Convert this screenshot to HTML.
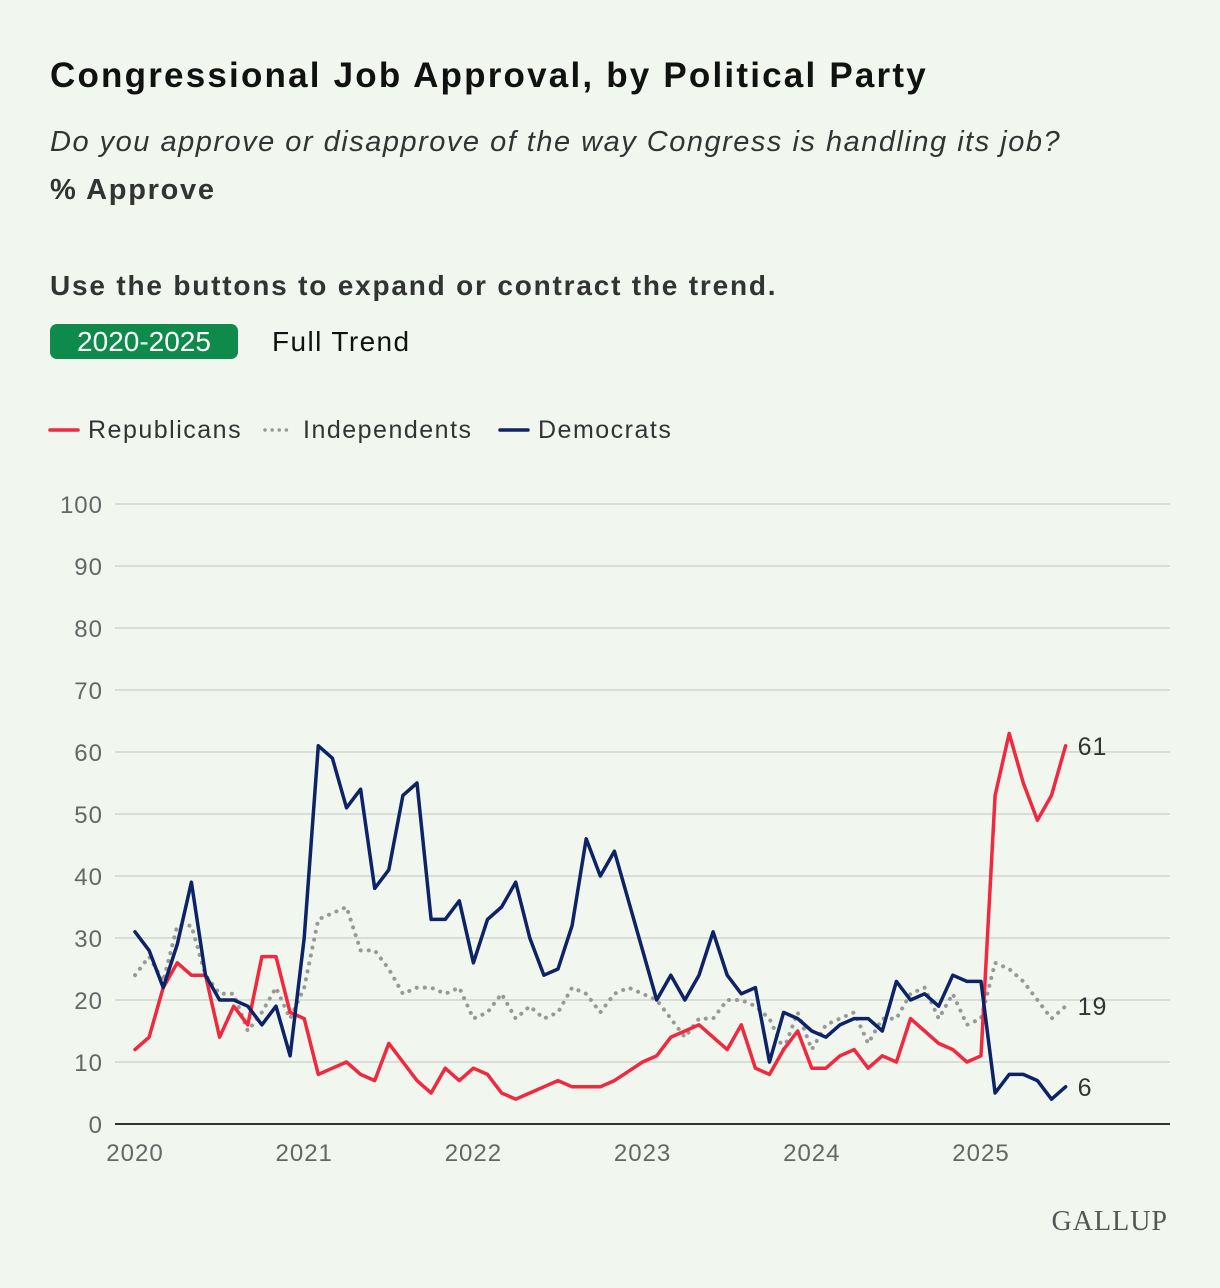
<!DOCTYPE html>
<html><head><meta charset="utf-8"><style>
body{margin:0;background:#f1f6ef;font-family:"Liberation Sans",sans-serif;}
.wrap{position:relative;width:1220px;height:1288px;}
h1{position:absolute;left:50px;top:56px;margin:0;font-size:35px;font-weight:bold;color:#111;letter-spacing:2.2px;}
.q{position:absolute;left:50px;top:126px;font-size:29px;font-style:italic;color:#333;letter-spacing:1.5px;}
.pa{position:absolute;left:50px;top:174px;font-size:29px;font-weight:bold;color:#333;letter-spacing:1.7px;}
.use{position:absolute;left:50px;top:270px;font-size:28px;font-weight:bold;color:#333;letter-spacing:1.8px;}
.btn1{position:absolute;left:50px;top:324px;width:188px;height:35px;background:#0e8a4a;color:#fff;border-radius:7px;font-size:28px;text-align:center;line-height:35px;}
.btn2{position:absolute;left:272px;top:324px;font-size:28px;color:#111;line-height:35px;letter-spacing:1.4px;}
</style></head><body><div class="wrap">
<h1>Congressional Job Approval, by Political Party</h1>
<div class="q">Do you approve or disapprove of the way Congress is handling its job?</div>
<div class="pa">% Approve</div>
<div class="use">Use the buttons to expand or contract the trend.</div>
<div class="btn1">2020-2025</div>
<div class="btn2">Full Trend</div>
<svg id="chart" width="1220" height="1288" style="position:absolute;left:0;top:0"></svg>
</div>
<script>
const years=["2020","2021","2022","2023","2024","2025"];
const yTicks=[0,10,20,30,40,50,60,70,80,90,100];
const republicans=[12,14,22,26,24,24,14,19,16,27,27,18, 17,8,9,10,8,7,13,10,7,5,9,7, 9,8,5,4,5,6,7,6,6,6,7,8.5, 10,11,14,15,16,14,12,16,9,8,12,15, 9,9,11,12,9,11,10,17,15,13,12,10, 11,53,63,55,49,53,61];
const independents=[24,27,23,32,32,24,21,21,15,18,22,17, 22,33,34,35,28,28,25,21,22,22,21,22, 17,18,21,17,19,17,18,22,21,18,21,22, 21,20,17,14,17,17,20,20,19,17,12,18, 12,16,17,18,13,17,17,21,22,17,21,16, 17,26,25,23,20,17,19];
const democrats=[31,28,22,29,39,24,20,20,19,16,19,11, 30,61,59,51,54,38,41,53,55,33,33,36, 26,33,35,39,30,24,25,32,46,40,44,36, 28,20,24,20,24,31,24,21,22,10,18,17, 15,14,16,17,17,15,23,20,21,19,24,23, 23,5,8,8,7,4,6];
const NS="http://www.w3.org/2000/svg";
const svg=document.getElementById('chart');
const x0=135,perMonth=14.1,yBase=1124,yTop=504;
const X=i=>x0+i*perMonth;
const Y=v=>yBase-(v/100)*(yBase-yTop);
function mk(tag,attrs,parent){const e=document.createElementNS(NS,tag);for(const k in attrs)e.setAttribute(k,attrs[k]);(parent||svg).appendChild(e);return e;}
yTicks.forEach(t=>{
  if(t>0){const g=mk('line',{x1:115,x2:1170,y1:Y(t),y2:Y(t),stroke:'#d8ddd6','stroke-width':2});
  
  }
  const l=mk('text',{x:103,y:Y(t)+9,'text-anchor':'end','font-size':24,fill:'#666','font-family':'Liberation Sans, sans-serif','letter-spacing':1});
  l.textContent=t;
  
  
});
const ax=mk('line',{x1:115,x2:1170,y1:yBase,y2:yBase,stroke:'#333','stroke-width':2});


years.forEach((yr,i)=>{
  const t=mk('text',{x:X(i*12),y:1161,'text-anchor':'middle','font-size':24,fill:'#666','font-family':'Liberation Sans, sans-serif','letter-spacing':1});
  t.textContent=yr;
  
  
});
function series(arr,color,dash,name){
  const p=mk('polyline',{points:arr.map((v,i)=>X(i)+','+Y(v)).join(' '),fill:'none',stroke:color,'stroke-width':dash?4:3.5,'stroke-linejoin':'round','stroke-linecap':'round'});
  if(dash){p.setAttribute('stroke-dasharray','0.1 8');}
  
  
  const last=arr.length-1;
  const t=mk('text',{x:X(last)+12,y:Y(arr[last])+9,'font-size':25,fill:'#333','font-family':'Liberation Sans, sans-serif','letter-spacing':1});
  t.textContent=arr[last];
  
  
}
series(independents,'#999',true,'independents-line');
series(republicans,'#f0293e',false,'republicans-line');
series(democrats,'#0d2366',false,'democrats-line');
const legend=[["Republicans","#f0293e",false,50],["Independents","#999",true,265],["Democrats","#0d2366",false,500]];
legend.forEach(([n,c,d,lx])=>{
  const g=mk('g',{});
  
  
  const l=mk('line',{x1:lx,x2:lx+28,y1:430,y2:430,stroke:c,'stroke-width':3.5,'stroke-linecap':'round'},g);
  if(d)l.setAttribute('stroke-dasharray','0.1 7');
  const t=mk('text',{x:lx+38,y:438,'font-size':25,fill:'#333','font-family':'Liberation Sans, sans-serif','letter-spacing':1.5},g);
  t.textContent=n;
});
const gl=mk('text',{x:1168,y:1230,'text-anchor':'end','font-size':28,fill:'#555','font-family':'Liberation Serif, serif','letter-spacing':'1'});
gl.textContent='GALLUP';


</script></body></html>
